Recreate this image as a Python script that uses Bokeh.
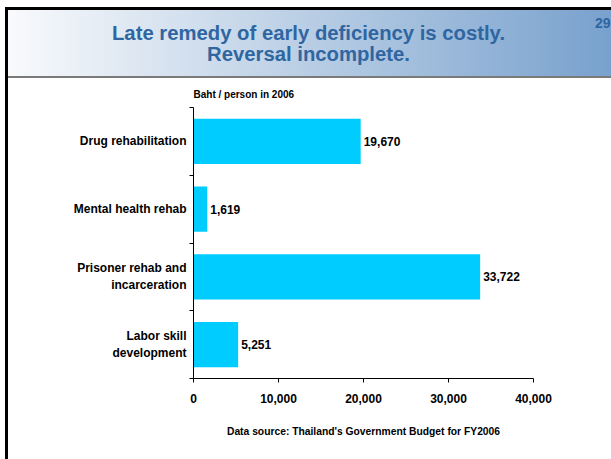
from bokeh.plotting import figure
from bokeh.models import FixedTicker, NumeralTickFormatter, Range1d, ColumnDataSource
from bokeh.embed import file_html
from bokeh.resources import INLINE
from bokeh.core.properties import value

# Spending per person (Baht, 2006), listed top to bottom
categories = [
    "Drug rehabilitation",
    "Mental health rehab",
    "Prisoner rehab and\nincarceration",
    "Labor skill\ndevelopment",
]
amounts = [19670, 1619, 33722, 5251]
x_ticks = [0, 10000, 20000, 30000, 40000]

headline = ["Late remedy of early deficiency is costly.", "Reversal incomplete."]
page_number = "29"
unit_note = "Baht / person in 2006"
source_note = "Data source: Thailand's Government Budget for FY2006"

FONT = "Liberation Sans"
BAR = "#00ccff"
TITLE_BLUE = "#2f66a1"

W, H = 611, 459
HEAD_H = 78
FRAME_L, FRAME_R, FRAME_T, FRAME_B = 193, 533, 107, 378

# ---- header: slide frame corner, gradient band, rule, headline ----
head_css = {
    "background-color": "white",
    "background-image": ", ".join([
        "linear-gradient(#000000, #000000)",
        "linear-gradient(#000000, #000000)",
        "linear-gradient(#7a7a7a, #7a7a7a)",
        "linear-gradient(to right, #f9fafc, #78a1cd)",
    ]),
    "background-size": "3px 71px, 606px 3px, 603px 2px, 603px 66px",
    "background-position": "5px 7px, 5px 7px, 8px 76px, 8px 10px",
    "background-repeat": "no-repeat",
}
head = figure(width=W, height=HEAD_H, x_range=Range1d(0, W), y_range=Range1d(HEAD_H, 0),
              toolbar_location=None, output_backend="svg",
              x_axis_location=None, y_axis_location=None, min_border=0,
              styles=head_css)
head.outline_line_color = None
head.grid.grid_line_color = None
head.background_fill_color = None
head.border_fill_color = None
head.text(x=[308, 308], y=[32, 53], text=headline, text_align="center",
          text_baseline="middle", text_font=value(FONT), text_font_size="20.3px",
          text_font_style="bold", text_color=TITLE_BLUE)
head.text(x=[610], y=[22], text=[page_number], text_align="right",
          text_baseline="middle", text_font=value(FONT), text_font_size="14px",
          text_font_style="bold", text_color=TITLE_BLUE)

# ---- bar chart ----
body_css = {
    "background-color": "white",
    "background-image": "linear-gradient(#000000, #000000)",
    "background-size": "3px 100%",
    "background-position": "5px 0px",
    "background-repeat": "no-repeat",
}

n = len(categories)
ys = [n - i - 0.5 for i in range(n)]
labels = [f"{a:,}" for a in amounts]

p = figure(
    width=W, height=H - HEAD_H,
    x_range=Range1d(0, x_ticks[-1]), y_range=Range1d(0, n),
    min_border_left=FRAME_L, min_border_right=W - FRAME_R,
    min_border_top=FRAME_T - HEAD_H, min_border_bottom=H - FRAME_B,
    toolbar_location=None, output_backend="svg",
    title=unit_note, styles=body_css,
)
p.outline_line_color = None
p.background_fill_color = None
p.border_fill_color = None
p.grid.grid_line_color = None

p.title.text_font = FONT
p.title.text_font_size = "10px"
p.title.text_font_style = "bold"
p.title.text_color = "black"
p.title.align = "left"
p.title.standoff = 15

src = ColumnDataSource(dict(y=ys, amount=amounts, label=labels))
p.hbar(y="y", left=0, right="amount", height=0.67, source=src,
       fill_color=BAR, line_color=None)
p.text(x="amount", y="y", text="label", source=src, x_offset=3,
       text_baseline="middle", text_align="left",
       text_font=value(FONT), text_font_size="12px", text_font_style="bold",
       text_color="black")

# category axis: labels at bar centres, ticks at category boundaries
ya = p.yaxis[0]
ya.ticker = FixedTicker(ticks=ys, minor_ticks=list(range(n + 1)))
ya.major_label_overrides = {y: c for y, c in zip(ys, categories)}
ya.major_tick_line_color = None
ya.major_tick_out = 0
ya.major_tick_in = 0
ya.minor_tick_out = 4
ya.minor_tick_in = 0
ya.minor_tick_line_color = "black"
ya.axis_line_color = "black"
ya.major_label_standoff = 3
ya.major_label_text_align = "center"
ya.major_label_text_font = FONT
ya.major_label_text_font_size = "12px"
ya.major_label_text_font_style = "bold"
ya.major_label_text_color = "black"

xa = p.xaxis[0]
xa.ticker = FixedTicker(ticks=x_ticks)
xa.formatter = NumeralTickFormatter(format="0,0")
xa.major_tick_out = 4
xa.major_tick_in = 0
xa.minor_tick_line_color = None
xa.axis_line_color = "black"
xa.major_tick_line_color = "black"
xa.major_label_standoff = 11
xa.major_label_text_font = FONT
xa.major_label_text_font_size = "12px"
xa.major_label_text_font_style = "bold"
xa.major_label_text_color = "black"
xa.axis_label = source_note
xa.axis_label_standoff = 20
xa.axis_label_text_font = FONT
xa.axis_label_text_font_size = "10.3px"
xa.axis_label_text_font_style = "bold"
xa.axis_label_text_color = "black"

open("out.html", "w").write(file_html([head, p], INLINE))
